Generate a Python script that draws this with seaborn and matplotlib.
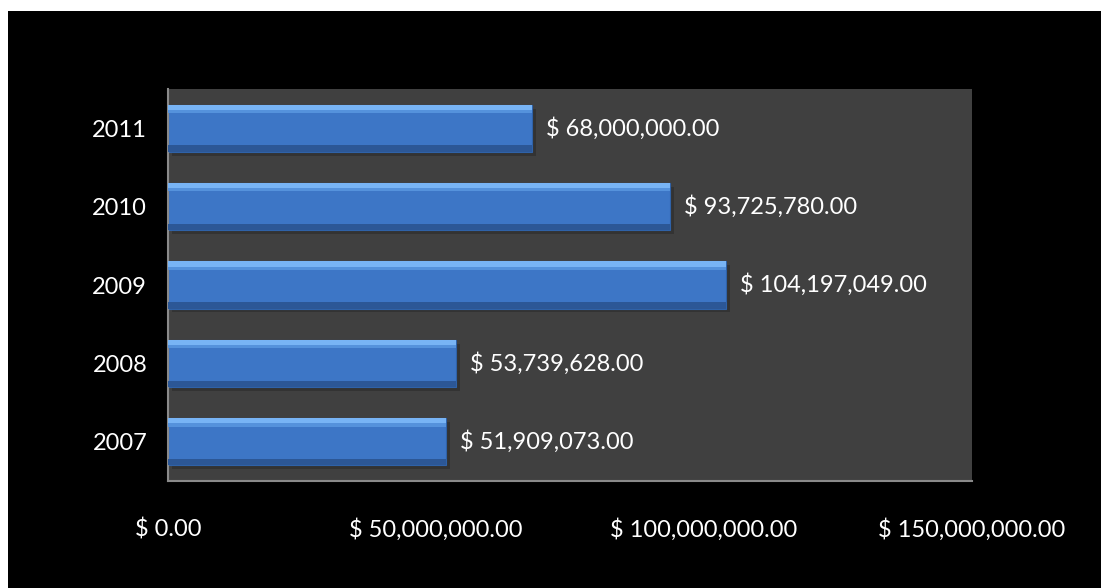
import matplotlib
matplotlib.use("Agg")
import matplotlib.pyplot as plt
import seaborn as sns
import pandas as pd
from matplotlib.patches import Rectangle

# data
years = ["2011", "2010", "2009", "2008", "2007"]
amounts = [68000000.00, 93725780.00, 104197049.00, 53739628.00, 51909073.00]
x_ticks = [0, 50000000, 100000000, 150000000]

df = pd.DataFrame({"year": years, "amount": amounts})

sns.set_theme(style="dark")
plt.rcParams["font.family"] = ["Lato", "DejaVu Sans"]

fig = plt.figure(figsize=(11.01, 5.88), dpi=100, facecolor="white")
# black panel behind the chart (thin white band top and left)
fig.patches.append(Rectangle((8 / 1101, 0), 1, (588 - 11) / 588,
                             transform=fig.transFigure, facecolor="black",
                             edgecolor="none", zorder=-10))
ax = fig.add_axes([168 / 1101, 1 - 481 / 588, (972 - 168) / 1101, (481 - 89) / 588])
ax.set_facecolor("#404040")

pos = list(range(len(years)))

# soft shadow under each bar
ax.barh([p + 0.05 for p in pos], amounts, height=0.6, left=700000,
        color="#333333", linewidth=0, zorder=1)
sns.barplot(data=df, x="amount", y="year", orient="h", ax=ax,
            color="#3d76c6", saturation=1, width=0.6,
            edgecolor="#2f62a8", linewidth=0.8, zorder=2)
# bevel highlights
ax.barh([p - 0.265 for p in pos], amounts, height=0.07,
        color="#78b4f5", linewidth=0, zorder=3)
ax.barh([p - 0.215 for p in pos], amounts, height=0.04,
        color="#5592dc", linewidth=0, zorder=3)
ax.barh([p + 0.26 for p in pos], amounts, height=0.08,
        color="#2c5796", linewidth=0, zorder=3)

for i, v in enumerate(amounts):
    ax.text(v + 2600000, i, f"$ {v:,.2f}", color="white", fontsize=17,
            va="center", ha="left", zorder=4)

ax.set_xlim(0, 150000000)
ax.set_ylim(len(years) - 0.5, -0.5)
ax.set_xticks(x_ticks)
ax.set_xticklabels([f"$ {t:,.2f}" for t in x_ticks])
ax.set_xlabel("")
ax.set_ylabel("")
ax.tick_params(axis="x", colors="white", labelsize=17, pad=27, length=0)
ax.tick_params(axis="y", colors="white", labelsize=17, pad=15, length=0)
ax.grid(False)

for side in ["top", "right"]:
    ax.spines[side].set_visible(False)
for side in ["left", "bottom"]:
    ax.spines[side].set_visible(True)
    ax.spines[side].set_color("#8a8a8a")
    ax.spines[side].set_linewidth(1.5)

fig.savefig("out.png", dpi=100, facecolor=fig.get_facecolor())
